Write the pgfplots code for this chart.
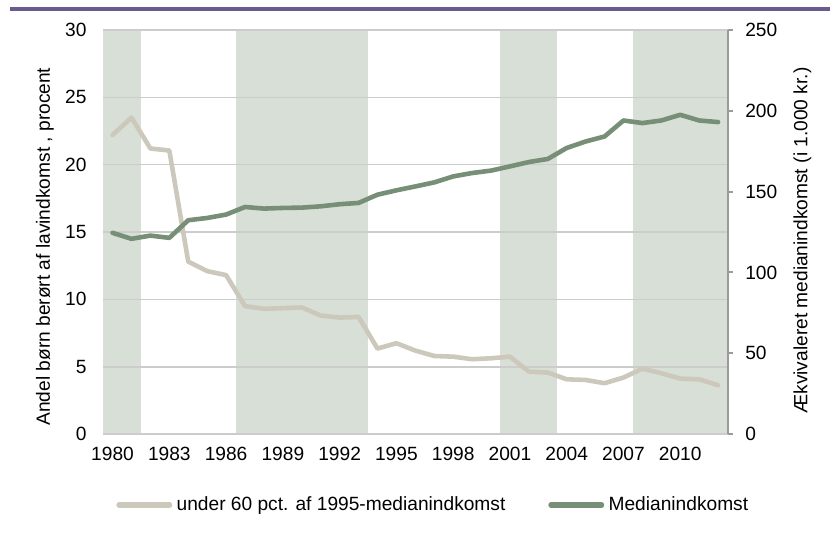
\documentclass[border=0pt]{standalone}
\usepackage{fontspec}
\setmainfont{Liberation Sans}
\usepackage{pgfplots}
\pgfplotsset{compat=1.18}
\definecolor{purp}{HTML}{6B5A8E}
\definecolor{beige}{HTML}{CCC8BC}
\definecolor{grn}{HTML}{768F76}
\definecolor{shade}{HTML}{D8DFD7}
\definecolor{gridc}{HTML}{CCCCCC}
\definecolor{axc}{HTML}{9A9A9A}
\begin{document}
\begin{tikzpicture}[font=\fontsize{9.6}{11.5}\selectfont]
\begin{axis}[
  set layers,
  scale only axis, width=312.85pt, height=202.5pt,
  xmin=1979.5, xmax=2012.5, ymin=0, ymax=30,
  xtick={1980,1983,...,2010}, ytick={0,5,...,30},
  ymajorgrids, grid style={gridc, line width=0.8pt},
  axis line style={draw=none},
  tick style={draw=none},
  tick label style={font=\fontsize{9.6}{11.5}\selectfont},
  /pgf/number format/assume math mode=true,
  /pgf/number format/1000 sep={},
  xticklabel style={anchor=north, inner sep=0pt, yshift=-6.35pt},
  yticklabel style={anchor=east, inner sep=0pt, xshift=-8.15pt},
  ylabel={Andel børn berørt af lavindkomst , procent},
  every axis y label/.style={at={(axis description cs:-0.0932,0.464)}, rotate=90, anchor=center},
  legend columns=2,
  legend cell align=left,
  legend style={draw=none, fill=none, at={(axis description cs:0.0206,-0.1753)}, anchor=west, inner sep=0pt,
    nodes={inner sep=0pt, anchor=west},
    /tikz/every odd column/.append style={column sep=2.2pt},
    /tikz/every even column/.append style={column sep=21.5pt}},
  legend image code/.code={\draw[#1, line width=2.6pt, line cap=round] (0pt,0pt) -- (25.4pt,0pt);},
]
\addplot[fill=shade, draw=none, on layer=axis background, forget plot] coordinates {(1979.5,0) (1981.5,0) (1981.5,30) (1979.5,30)} -- cycle;
\addplot[fill=shade, draw=none, on layer=axis background, forget plot] coordinates {(1986.5,0) (1993.5,0) (1993.5,30) (1986.5,30)} -- cycle;
\addplot[fill=shade, draw=none, on layer=axis background, forget plot] coordinates {(2000.5,0) (2003.5,0) (2003.5,30) (2000.5,30)} -- cycle;
\addplot[fill=shade, draw=none, on layer=axis background, forget plot] coordinates {(2007.5,0) (2012.5,0) (2012.5,30) (2007.5,30)} -- cycle;
\addplot[beige, line width=2.3pt, line cap=round, line join=round] coordinates {
(1980,22.2) (1981,23.5) (1982,21.2) (1983,21.05) (1984,12.8) (1985,12.1) (1986,11.8)
(1987,9.5) (1988,9.3) (1989,9.35) (1990,9.4) (1991,8.8) (1992,8.65) (1993,8.7)
(1994,6.35) (1995,6.75) (1996,6.2) (1997,5.8) (1998,5.75) (1999,5.56) (2000,5.63)
(2001,5.75) (2002,4.64) (2003,4.57) (2004,4.07) (2005,4.02) (2006,3.78) (2007,4.2)
(2008,4.86) (2009,4.52) (2010,4.12) (2011,4.07) (2012,3.63)};
\addlegendentry{under 60 pct. af 1995-medianindkomst}
\addlegendimage{grn}
\addlegendentry{Medianindkomst}
\end{axis}
\begin{axis}[
  scale only axis, width=312.85pt, height=202.5pt,
  xmin=1979.5, xmax=2012.5, ymin=0, ymax=250,
  axis x line=none,
  axis y line*=right,
  ytick={0,50,...,250},
  y axis line style={-, axc, line width=1pt},
  ytick style={axc, line width=1pt},
  tick align=outside, major tick length=2.5pt,
  tick label style={font=\fontsize{9.6}{11.5}\selectfont},
  /pgf/number format/assume math mode=true,
  yticklabel style={anchor=west, inner sep=0pt, xshift=6.2pt},
  ylabel={Ækvivaleret medianindkomst (i 1.000 kr.)},
  every axis y label/.style={at={(axis description cs:1.1199,0.479)}, rotate=90, anchor=center},
]
\addplot[grn, line width=2.3pt, line cap=round, line join=round] coordinates {
(1980,124.5) (1981,120.8) (1982,122.8) (1983,121.4) (1984,132.3) (1985,133.7) (1986,135.8)
(1987,140.5) (1988,139.5) (1989,139.9) (1990,140.1) (1991,140.9) (1992,142.2) (1993,143.0)
(1994,148.1) (1995,150.8) (1996,153.2) (1997,155.7) (1998,159.4) (1999,161.5) (2000,163.0)
(2001,165.6) (2002,168.3) (2003,170.2) (2004,177) (2005,181) (2006,184.1) (2007,194)
(2008,192.4) (2009,194) (2010,197.5) (2011,194) (2012,193.0)};
\end{axis}
\draw[purp, line width=1.65pt] (-46.65pt,213pt) -- (364.35pt,213pt);
\path (-51.65pt,-50pt) rectangle (364.35pt,217.5pt);
\end{tikzpicture}
\end{document}
